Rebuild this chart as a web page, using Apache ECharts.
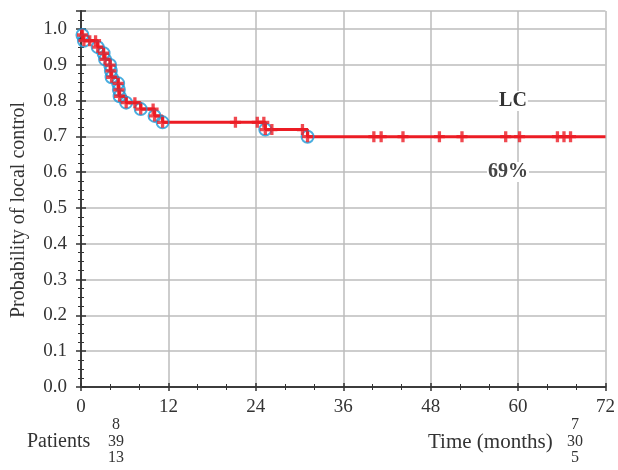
<!DOCTYPE html>
<html>
<head>
<meta charset="utf-8">
<script src="https://cdn.jsdelivr.net/npm/echarts@6/dist/echarts.min.js"></script>
<style>
  html, body { margin: 0; padding: 0; background: #fff; }
  #chart { width: 618px; height: 470px; }
</style>
</head>
<body>
<div id="chart"></div>
<script>
// Kaplan-Meier local control, months
const eventTimes = [0.2, 0.4, 2.3, 3.1, 3.3, 4.0, 4.1, 4.2, 5.1, 5.2, 5.3, 6.2, 8.2, 10.1, 11.2, 25.3, 31.1];
const eventSurv = [0.983, 0.967, 0.949, 0.932, 0.915, 0.899, 0.883, 0.865, 0.848, 0.830, 0.812, 0.794, 0.776, 0.757, 0.739, 0.719, 0.699];
const censorTimes = [1.2, 2.0, 7.4, 9.9, 21.2, 24.2, 25.1, 26.2, 30.4, 40.2, 41.2, 44.2, 49.2, 52.3, 58.3, 60.2, 65.4, 66.3, 67.2];
const xTicks = [0, 12, 24, 36, 48, 60, 72];
const patientsCol1 = ["8", "39", "13"];
const patientsCol2 = ["7", "30", "5"];

const RED = "#ec1c24";
const BLUE = "#1c9ad8";
const FONT = "Liberation Serif";
const PLUS = "path://M-1.5,-5h3v3.5h3.5v3h-3.5v3.5h-3v-3.5h-3.5v-3h3.5z";

function survAt (t) {
    let s = 1;
    for (let i = 0; i < eventTimes.length; i++) {
        if (eventTimes[i] <= t) s = eventSurv[i];
    }
    return s;
}

const stepData = [[0, 1]];
eventTimes.forEach((t, i) => stepData.push([t, eventSurv[i]]));
stepData.push([xTicks[xTicks.length - 1], eventSurv[eventSurv.length - 1]]);

const eventData = eventTimes.map((t, i) => [t, eventSurv[i]]);
const censorData = censorTimes.map(t => [t, survAt(t)]);

const chart = echarts.init(document.getElementById("chart"));

const axisLine = { show: true, lineStyle: { color: "#333", width: 1.5 } };
const splitLine = { show: true, lineStyle: { color: "#bdbdbd", width: 1.5 } };

function numCol (vals, x) {
    return vals.map((v, i) => ({
        type: "text",
        style: {
            text: v, x: x, y: 425 + i * 16.5,
            textAlign: "center", textVerticalAlign: "middle",
            font: "16px '" + FONT + "'", fill: "#333"
        }
    }));
}

const option = {
    animation: false,
    grid: { left: 81, right: 10, top: 11, bottom: 83 },
    xAxis: [
        {
            type: "value", min: 0, max: 72, interval: 12,
            axisLine: axisLine,
            axisTick: { inside: true, length: 4, lineStyle: { color: "#333", width: 1.5 } },
            minorTick: { show: true, splitNumber: 3, length: 3, lineStyle: { color: "#333" } },
            splitLine: splitLine,
            axisLabel: { fontFamily: FONT, fontSize: 19, color: "#333", margin: 11 }
        },
        {
            type: "value", min: 0, max: 72, interval: 12, position: "top",
            axisLine: axisLine,
            axisTick: { inside: true, length: 4, lineStyle: { color: "#333", width: 1.5 } },
            minorTick: { show: true, splitNumber: 3, length: 3, lineStyle: { color: "#333" } },
            splitLine: { show: false },
            axisLabel: { show: false }
        }
    ],
    yAxis: [
        {
            type: "value", min: 0, max: 1.05, interval: 0.1,
            axisLine: axisLine,
            axisTick: { inside: true, length: 5, lineStyle: { color: "#333", width: 1.5 } },
            minorTick: { show: true, splitNumber: 4, length: 3, lineStyle: { color: "#333" } },
            splitLine: splitLine,
            axisLabel: {
                fontFamily: FONT, fontSize: 19, color: "#333", margin: 14,
                showMaxLabel: false,
                formatter: v => v.toFixed(1)
            }
        },
        {
            type: "value", min: 0, max: 1.05, interval: 0.1, position: "right",
            axisLine: axisLine,
            axisTick: { inside: true, length: 5, lineStyle: { color: "#333", width: 1.5 } },
            minorTick: { show: true, splitNumber: 4, length: 3, lineStyle: { color: "#333" } },
            splitLine: { show: false },
            axisLabel: { show: false }
        }
    ],
    series: [
        {
            name: "LC",
            type: "line",
            step: "end",
            data: stepData,
            symbol: "none",
            lineStyle: { color: RED, width: 3 },
            z: 2
        },
        {
            type: "scatter",
            data: eventData,
            symbol: "circle",
            symbolSize: 12,
            itemStyle: { color: "rgba(0,0,0,0)", borderColor: BLUE, borderWidth: 2 },
            z: 3
        },
        {
            type: "scatter",
            data: eventData.concat(censorData),
            symbol: PLUS,
            symbolSize: 11,
            itemStyle: { color: RED },
            z: 4
        }
    ],
    graphic: [
        {
            type: "text", rotation: Math.PI / 2,
            x: 19, y: 210,
            style: {
                text: "Probability of local control",
                textAlign: "center", textVerticalAlign: "middle",
                font: "20px '" + FONT + "'", fill: "#333"
            }
        },
        {
            type: "text", z: 100,
            style: { text: "LC", x: 513, y: 101, textAlign: "center", textVerticalAlign: "middle",
                font: "bold 20px '" + FONT + "'", fill: "#333",
                backgroundColor: "#fff", padding: [0, 1] }
        },
        {
            type: "text", z: 100,
            style: { text: "69%", x: 508, y: 172, textAlign: "center", textVerticalAlign: "middle",
                font: "bold 20px '" + FONT + "'", fill: "#444",
                backgroundColor: "#fff", padding: [0, 1] }
        },
        {
            type: "text",
            style: { text: "Patients", x: 27, y: 442, textVerticalAlign: "middle",
                font: "20px '" + FONT + "'", fill: "#333" }
        },
        {
            type: "text",
            style: { text: "Time (months)", x: 428, y: 442, textVerticalAlign: "middle",
                font: "21px '" + FONT + "'", fill: "#333" }
        }
    ].concat(numCol(patientsCol1, 116), numCol(patientsCol2, 575))
};

chart.setOption(option);
</script>
</body>
</html>
